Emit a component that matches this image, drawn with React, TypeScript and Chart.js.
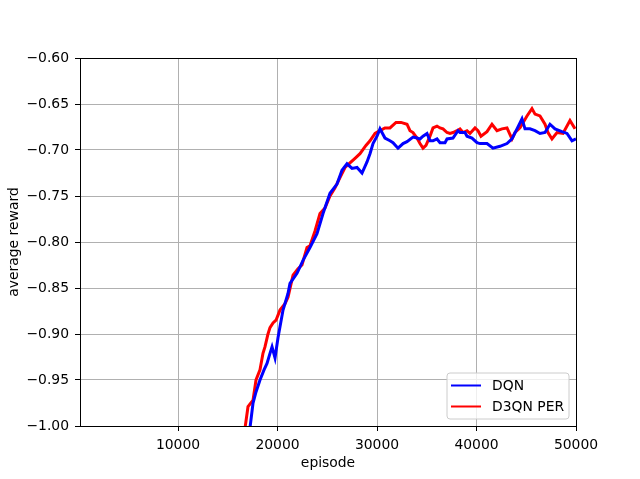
import React, { useEffect, useRef } from "react";
import { Chart, registerables } from "chart.js";

Chart.register(...registerables);

const seriesLabels = ["DQN", "D3QN PER"];
const seriesColors = ["#0000ff", "#ff0000"];

const dqnEpisodes = [
  17235, 17540, 17840, 18240, 18645, 18945, 19245, 19450, 19750, 20050, 20555, 21055, 21255, 21960,
  22565, 23265, 23970, 24575, 25275, 25980, 26480, 26985, 27490, 27990, 28495, 28995, 29295, 29600,
  30000, 30300, 30800, 31305, 31610, 32110, 32310, 32615, 33015, 33620, 34020, 34320, 34625, 35025,
  35325, 35630, 36030, 36330, 36835, 37035, 37635, 38140, 38340, 38845, 39045, 39545, 40050, 40350,
  41055, 41655, 42360, 43065, 43565, 44070, 44570, 44875, 45375, 45880, 46380, 46885, 47385, 47890,
  48590, 49095, 49600, 50000,
];
const dqnValues = [
  -1.002, -0.975, -0.963, -0.95, -0.939, -0.932, -0.921, -0.914, -0.926, -0.904, -0.874, -0.856, -0.845, -0.834,
  -0.82, -0.806, -0.791, -0.769, -0.747, -0.737, -0.722, -0.715, -0.72, -0.719, -0.725, -0.713, -0.704, -0.693,
  -0.685, -0.677, -0.687, -0.69, -0.692, -0.698, -0.696, -0.693, -0.691, -0.686, -0.687, -0.688, -0.685, -0.682,
  -0.69, -0.69, -0.688, -0.692, -0.692, -0.688, -0.687, -0.679, -0.681, -0.681, -0.685, -0.687, -0.692, -0.693,
  -0.693, -0.698, -0.696, -0.693, -0.688, -0.677, -0.666, -0.677, -0.677, -0.679, -0.682, -0.681, -0.672, -0.677,
  -0.68, -0.682, -0.69, -0.688,
];

const perEpisodes = [
  16700, 17035, 17540, 17840, 18240, 18540, 18740, 19045, 19245, 19550, 19850, 20250, 20755, 21055,
  21560, 22060, 22460, 22965, 23265, 23770, 24270, 24775, 25275, 25780, 26280, 26785, 27285, 27790,
  28290, 28890, 29295, 29800, 30300, 30800, 31305, 31910, 32410, 33015, 33315, 33620, 34020, 34320,
  34625, 34925, 35325, 35630, 36030, 36330, 36635, 37035, 37335, 37635, 38040, 38340, 38645, 39045,
  39345, 39850, 40150, 40450, 41055, 41555, 42060, 42560, 43065, 43565, 43870, 44370, 45075, 45575,
  45880, 46380, 46885, 47185, 47585, 48090, 48690, 49395, 49900,
];
const perValues = [
  -1.005, -0.979, -0.972, -0.95, -0.939, -0.921, -0.914, -0.9, -0.893, -0.888, -0.885, -0.874, -0.867, -0.86,
  -0.836, -0.829, -0.825, -0.806, -0.804, -0.788, -0.769, -0.763, -0.75, -0.741, -0.73, -0.719, -0.714, -0.709,
  -0.704, -0.695, -0.69, -0.682, -0.679, -0.676, -0.676, -0.67, -0.67, -0.672, -0.679, -0.681, -0.687, -0.693,
  -0.698, -0.695, -0.685, -0.676, -0.674, -0.676, -0.677, -0.681, -0.682, -0.681, -0.679, -0.677, -0.681, -0.679,
  -0.682, -0.676, -0.679, -0.685, -0.68, -0.672, -0.679, -0.677, -0.676, -0.688, -0.681, -0.676, -0.663, -0.655,
  -0.661, -0.663, -0.672, -0.681, -0.688, -0.681, -0.682, -0.668, -0.677,
];

const xTicks = [10000, 20000, 30000, 40000, 50000];
const xMin = 150;
const xMax = 50000;
const yMin = -1.0;
const yMax = -0.6;
const yStep = 0.05;
const xTitle = "episode";
const yTitle = "average reward";

const FONT = "'DejaVu Sans', sans-serif";
const FS = 13.9;

const frameAndLegend = {
  id: "frameAndLegend",
  afterDatasetsDraw(chart: any) {
    const { ctx, chartArea } = chart;
    ctx.save();
    ctx.strokeStyle = "#000";
    ctx.lineWidth = 1;
    const l = Math.round(chartArea.left) + 0.5;
    const t = Math.round(chartArea.top) + 0.5;
    const r = Math.round(chartArea.right) + 0.5;
    const b = Math.round(chartArea.bottom) + 0.5;
    ctx.strokeRect(l, t, r - l, b - t);
    ctx.restore();
  },
  afterDraw(chart: any) {
    const { ctx, chartArea } = chart;
    const w = 122;
    const h = 46;
    const bx = chartArea.right - 7 - w;
    const by = chartArea.bottom - 7 - h;
    ctx.save();
    ctx.beginPath();
    const rr = 3;
    ctx.moveTo(bx + rr, by);
    ctx.lineTo(bx + w - rr, by);
    ctx.quadraticCurveTo(bx + w, by, bx + w, by + rr);
    ctx.lineTo(bx + w, by + h - rr);
    ctx.quadraticCurveTo(bx + w, by + h, bx + w - rr, by + h);
    ctx.lineTo(bx + rr, by + h);
    ctx.quadraticCurveTo(bx, by + h, bx, by + h - rr);
    ctx.lineTo(bx, by + rr);
    ctx.quadraticCurveTo(bx, by, bx + rr, by);
    ctx.closePath();
    ctx.fillStyle = "rgba(255,255,255,0.8)";
    ctx.fill();
    ctx.strokeStyle = "#cccccc";
    ctx.lineWidth = 1;
    ctx.stroke();
    ctx.font = `${FS}px ${FONT}`;
    ctx.textBaseline = "middle";
    ctx.textAlign = "left";
    chart.data.datasets.forEach((ds: any, i: number) => {
      const y = by + 12.5 + i * 21;
      ctx.strokeStyle = ds.borderColor;
      ctx.lineWidth = 2;
      ctx.beginPath();
      ctx.moveTo(bx + 4, y);
      ctx.lineTo(bx + 34, y);
      ctx.stroke();
      ctx.fillStyle = "#000";
      ctx.fillText(ds.label, bx + 45, y + 0.5);
    });
    ctx.restore();
  },
};

export default function App() {
  const ref = useRef<HTMLCanvasElement>(null);
  useEffect(() => {
    document.body.style.margin = "0";
    const canvas = ref.current!;
    const series = [
      { eps: dqnEpisodes, vals: dqnValues },
      { eps: perEpisodes, vals: perValues },
    ];
    const chart = new Chart(canvas, {
      type: "line",
      data: {
        datasets: series.map((s, i) => ({
          label: seriesLabels[i],
          data: s.eps.map((e, j) => ({ x: e, y: s.vals[j] })),
          borderColor: seriesColors[i],
          backgroundColor: seriesColors[i],
          borderWidth: 3,
          pointRadius: 0,
          tension: 0,
          fill: false,
          clip: 0,
        })),
      },
      options: {
        responsive: false,
        animation: false,
        events: [],
        layout: { padding: { left: 6, top: 58, right: 64, bottom: 7 } },
        plugins: { legend: { display: false }, tooltip: { enabled: false } },
        scales: {
          x: {
            type: "linear",
            min: xMin,
            max: xMax,
            afterBuildTicks: (scale: any) => {
              scale.ticks = xTicks.map((v) => ({ value: v }));
            },
            afterFit: (scale: any) => {
              scale.height = 479 - 426 - 7;
            },
            grid: {
              color: "#b0b0b0",
              lineWidth: 1,
              tickColor: "#000",
              tickLength: 5,
              drawTicks: true,
            },
            border: { display: false },
            ticks: {
              color: "#000",
              font: { family: FONT, size: FS },
              padding: 6,
              maxRotation: 0,
              autoSkip: false,
              callback: (v: any) => String(v),
            },
            title: {
              display: true,
              text: xTitle,
              color: "#000",
              font: { family: FONT, size: FS },
              padding: { top: 0, bottom: 0 },
            },
          },
          y: {
            type: "linear",
            min: yMin,
            max: yMax,
            afterFit: (scale: any) => {
              scale.width = 80 - 6;
            },
            grid: {
              color: "#b0b0b0",
              lineWidth: 1,
              tickColor: "#000",
              tickLength: 5,
              drawTicks: true,
            },
            border: { display: false },
            ticks: {
              stepSize: yStep,
              color: "#000",
              font: { family: FONT, size: FS },
              padding: 6,
              callback: (v: any) => Number(v).toFixed(2).replace("-", "\u2212"),
            },
            title: {
              display: true,
              text: yTitle,
              color: "#000",
              font: { family: FONT, size: FS },
              padding: { top: 0, bottom: 0 },
            },
          },
        },
      },
      plugins: [frameAndLegend],
    } as any);
    return () => chart.destroy();
  }, []);
  return (
    <div style={{ width: 640, height: 479, background: "#fff" }}>
      <canvas ref={ref} width={640} height={479} style={{ display: "block" }} />
    </div>
  );
}
